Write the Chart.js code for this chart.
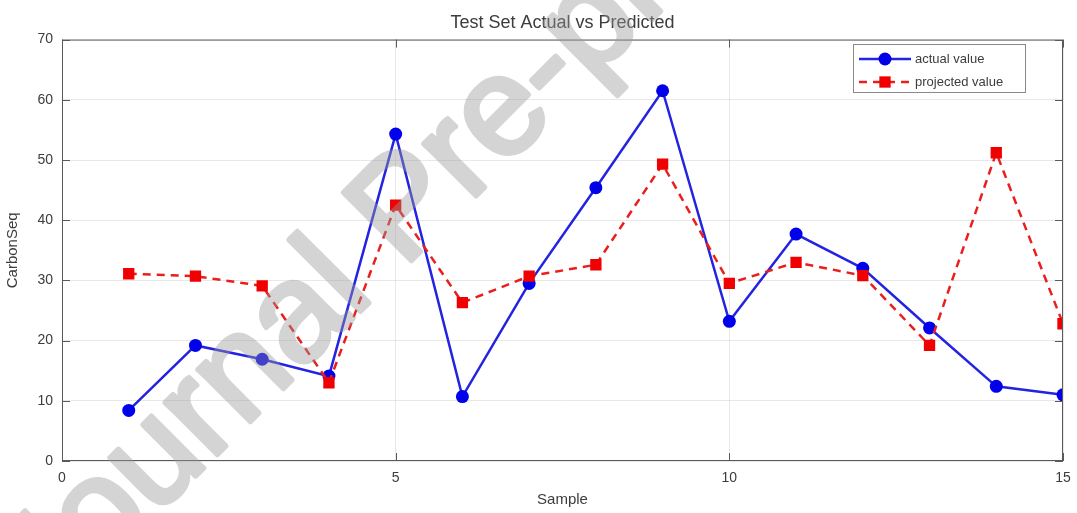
<!DOCTYPE html>
<html>
<head>
<meta charset="utf-8">
<title>Test Set Actual vs Predicted</title>
<script src="https://cdn.jsdelivr.net/npm/chart.js@4.4.0/dist/chart.umd.min.js"></script>
<style>
  html, body { margin: 0; padding: 0; background: #fff; }
  canvas { display: block; }
</style>
</head>
<body>
<canvas id="mycanvas" width="1077" height="513"></canvas>
<script>
// values
var samples = [1, 2, 3, 4, 5, 6, 7, 8, 9, 10, 11, 12, 13, 14, 15];
var actualValue = [8.4, 19.2, 16.9, 14.1, 54.3, 10.7, 29.5, 45.4, 61.5, 23.2, 37.7, 32.0, 22.1, 12.4, 11.0];
var projectedValue = [31.1, 30.7, 29.1, 13.0, 42.5, 26.3, 30.7, 32.6, 49.3, 29.5, 33.0, 30.8, 19.2, 51.2, 22.8];
var xTicks = [0, 5, 10, 15];
var yTicks = [0, 10, 20, 30, 40, 50, 60, 70];

var textColor = '#3c3c3c';
var fontName = '"Liberation Sans", Arial, sans-serif';

function toPoints(vals) {
	var pts = [];
	for (var i in vals) {
		pts.push({ x: samples[i], y: vals[i] });
	}
	return pts;
}

// box, inner ticks, legend and watermark
var decorations = {
	id: 'decorations',
	afterDatasetsDraw: function(chart) {
		var ctx = chart.ctx;
		var a = chart.chartArea;
		var xs = chart.scales.x, ys = chart.scales.y;
		ctx.save();
		ctx.strokeStyle = '#5a5a5a';
		ctx.lineWidth = 1;
		ctx.strokeRect(a.left + 0.5, a.top + 0.5, a.right - a.left - 1, a.bottom - a.top - 1);
		ctx.beginPath();
		xTicks.forEach(function(v) {
			var px = Math.round(xs.getPixelForValue(v)) + 0.5;
			ctx.moveTo(px, a.bottom); ctx.lineTo(px, a.bottom - 8);
			ctx.moveTo(px, a.top); ctx.lineTo(px, a.top + 8);
		});
		yTicks.forEach(function(v) {
			var py = Math.round(ys.getPixelForValue(v)) + 0.5;
			ctx.moveTo(a.left, py); ctx.lineTo(a.left + 8, py);
			ctx.moveTo(a.right, py); ctx.lineTo(a.right - 8, py);
		});
		ctx.stroke();

		// legend box
		var lx = 853, ly = 44, lw = 172, lh = 48;
		ctx.fillStyle = '#fff';
		ctx.fillRect(lx, ly, lw, lh);
		ctx.strokeStyle = '#8a8a8a';
		ctx.strokeRect(lx + 0.5, ly + 0.5, lw, lh);
		var rows = [
			{ ds: chart.data.datasets[0], y: ly + 15 },
			{ ds: chart.data.datasets[1], y: ly + 38 }
		];
		rows.forEach(function(r) {
			var ds = r.ds;
			ctx.strokeStyle = ds.borderColor;
			ctx.lineWidth = ds.borderWidth;
			ctx.setLineDash(ds.borderDash || []);
			ctx.beginPath();
			ctx.moveTo(lx + 6, r.y);
			ctx.lineTo(lx + 58, r.y);
			ctx.stroke();
			ctx.setLineDash([]);
			ctx.fillStyle = ds.pointBackgroundColor;
			Chart.helpers.drawPoint(ctx, { pointStyle: ds.pointStyle, radius: ds.pointRadius, borderWidth: 0 }, lx + 32, r.y);
			ctx.fillStyle = textColor;
			ctx.font = '13px ' + fontName;
			ctx.textBaseline = 'middle';
			ctx.textAlign = 'left';
			ctx.fillText(ds.label, lx + 62, r.y);
		});
		ctx.restore();
	},
	afterDraw: function(chart) {
		// watermark: draw opaque on a scratch canvas, then blend it in once
		var w = chart.width, h = chart.height;
		var off = document.createElement('canvas');
		off.width = w; off.height = h;
		var o = off.getContext('2d');
		o.translate(51, 621);
		o.rotate(-45 * Math.PI / 180);
		o.font = '140px ' + fontName;
		o.fillStyle = '#9a9a9a';
		o.strokeStyle = '#9a9a9a';
		o.lineWidth = 5;
		o.lineJoin = 'round';
		o.fillText('Journal Pre-proof', 0, 0);
		o.strokeText('Journal Pre-proof', 0, 0);
		var ctx = chart.ctx;
		ctx.save();
		ctx.globalAlpha = 0.42;
		ctx.drawImage(off, 0, 0);
		ctx.restore();
	}
};

var chartdata = {
	datasets: [
		{
			label: 'actual value',
			data: toPoints(actualValue),
			borderColor: 'rgb(35, 35, 225)',
			backgroundColor: 'rgb(0, 0, 235)',
			pointBackgroundColor: 'rgb(0, 0, 235)',
			pointBorderWidth: 0,
			pointStyle: 'circle',
			pointRadius: 6.5,
			borderWidth: 2.5,
			tension: 0,
			order: 2
		},
		{
			label: 'projected value',
			data: toPoints(projectedValue),
			borderColor: 'rgb(235, 30, 30)',
			backgroundColor: 'rgb(240, 0, 0)',
			pointBackgroundColor: 'rgb(240, 0, 0)',
			pointBorderWidth: 0,
			pointStyle: 'rect',
			pointRadius: 8,
			borderWidth: 2.5,
			borderDash: [8, 6],
			tension: 0,
			order: 1
		}
	]
};

var ctx = document.getElementById('mycanvas');

var lineGraph = new Chart(ctx, {
	type: 'line',
	data: chartdata,
	plugins: [decorations],
	options: {
		responsive: false,
		animation: false,
		layout: { padding: { left: 0, right: 14, top: 0, bottom: 0 } },
		plugins: {
			legend: { display: false },
			tooltip: { enabled: false },
			title: {
				display: true,
				text: 'Test Set Actual vs Predicted',
				fullSize: false,
				color: textColor,
				font: { family: fontName, size: 18, weight: 'normal' },
				padding: { top: 12, bottom: 6 }
			}
		},
		scales: {
			x: {
				type: 'linear',
				min: 0,
				max: 15,
				afterBuildTicks: function(s) { s.ticks = xTicks.map(function(v) { return { value: v }; }); },
				afterFit: function(s) { s.height = 52; s.paddingLeft = 0; s.paddingRight = 0; },
				ticks: { color: textColor, font: { family: fontName, size: 14 }, padding: 9 },
				grid: { color: 'rgba(0,0,0,0.09)', drawTicks: false },
				border: { display: false },
				title: { display: true, text: 'Sample', color: textColor, font: { family: fontName, size: 15 }, padding: { top: 10 } }
			},
			y: {
				type: 'linear',
				min: 0,
				max: 70,
				afterBuildTicks: function(s) { s.ticks = yTicks.map(function(v) { return { value: v }; }); },
				afterFit: function(s) { s.width = 62; },
				ticks: { color: textColor, font: { family: fontName, size: 14 }, padding: 9 },
				grid: { color: 'rgba(0,0,0,0.09)', drawTicks: false },
				border: { display: false },
				title: { display: true, text: 'CarbonSeq', color: textColor, font: { family: fontName, size: 15 }, padding: { top: 4, bottom: 0 } }
			}
		}
	}
});
</script>
</body>
</html>
